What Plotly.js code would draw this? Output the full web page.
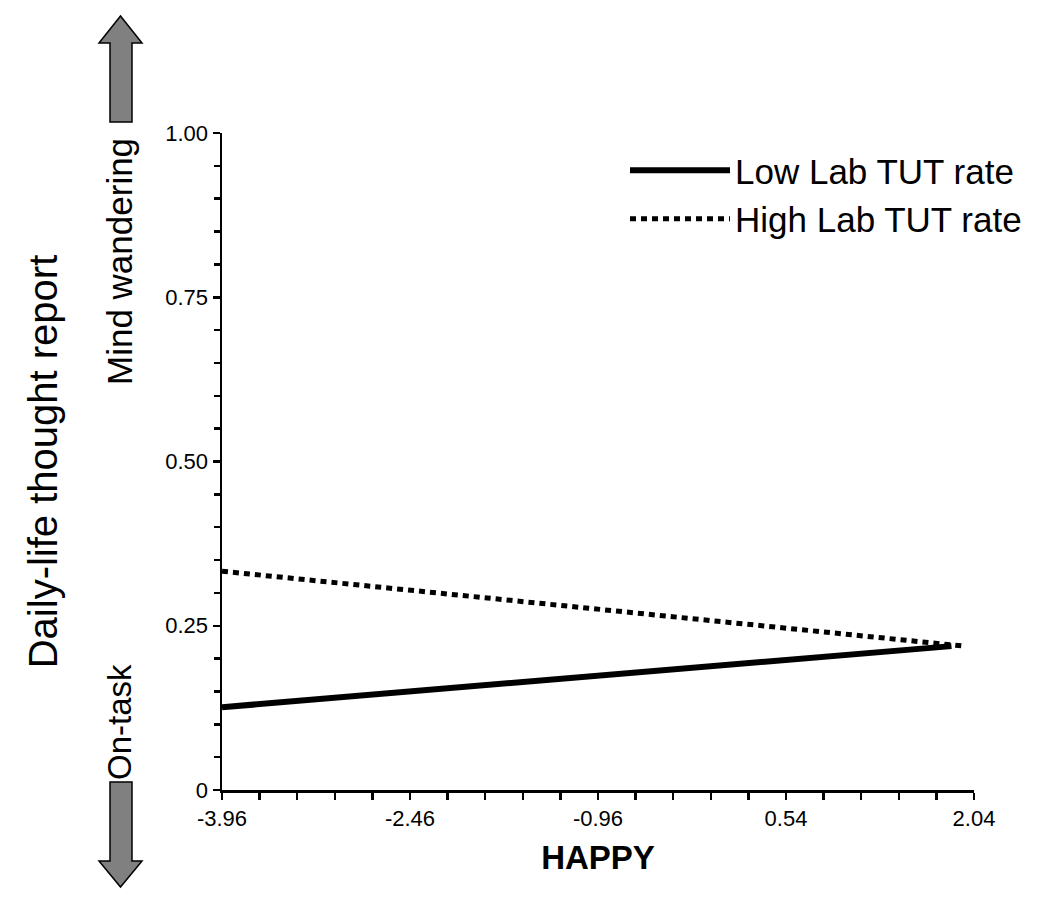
<!DOCTYPE html>
<html>
<head>
<meta charset="utf-8">
<script src="https://cdn.plot.ly/plotly-3.0.1.min.js"></script>
<style>
  html, body { margin: 0; padding: 0; background: #ffffff; }
  #chart { width: 1050px; height: 906px; }
</style>
</head>
<body>
<div id="chart"></div>
<script>
// ---- data ----
const seriesNames = ["Low Lab TUT rate", "High Lab TUT rate"];
const happyLow = [-3.96, 1.86];
const thoughtLow = [0.126, 0.219];
const happyHigh = [-3.96, 1.96];
const thoughtHigh = [0.333, 0.219];
const xTickVals = [-3.96, -2.46, -0.96, 0.54, 2.04];
const xTickText = ["-3.96", "-2.46", "-0.96", "0.54", "2.04"];
const yTickVals = [0, 0.25, 0.5, 0.75, 1.0];
const yTickText = ["0", "0.25", "0.50", "0.75", "1.00"];
const xTitle = "HAPPY";
const yTitle = "Daily-life thought report";
const upperLabel = "Mind wandering";
const lowerLabel = "On-task";

// ---- layout geometry (pixels) ----
const W = 1050, H = 906;
const M = { l: 222, r: 76, t: 133, b: 116 };
const pw = W - M.l - M.r, ph = H - M.t - M.b;
const xp = px => (px - M.l) / pw;
const yp = py => (H - M.b - py) / ph;
function arrowPath(pts) {
  return "M" + pts.map(p => xp(p[0]).toFixed(5) + "," + yp(p[1]).toFixed(5)).join(" L") + " Z";
}
const upArrow = [[120.5,16],[142,43],[132,43],[132,122],[110,122],[110,43],[99,43]];
const downArrow = [[110,782],[132,782],[132,861],[142,861],[120.5,887],[99,861],[110,861]];

const FONT = "Liberation Sans, Arial, sans-serif";

const traces = [
  { x: happyLow, y: thoughtLow, name: seriesNames[0], type: "scatter", mode: "lines",
    line: { color: "#000000", width: 6 } },
  { x: happyHigh, y: thoughtHigh, name: seriesNames[1], type: "scatter", mode: "lines",
    line: { color: "#000000", width: 5, dash: "6px,5px" } }
];

const axisCommon = {
  showgrid: false, zeroline: false, showline: true, linecolor: "#000000", linewidth: 2.5,
  ticks: "outside", ticklen: 7, tickwidth: 2.5, tickcolor: "#000000",
  tickfont: { family: FONT, size: 22, color: "#000000" }, automargin: false, fixedrange: true
};

const layout = {
  width: W, height: H,
  margin: M,
  paper_bgcolor: "#ffffff", plot_bgcolor: "#ffffff",
  showlegend: true,
  legend: { x: xp(625), y: yp(141), xanchor: "left", yanchor: "top",
    bgcolor: "rgba(0,0,0,0)", itemwidth: 100,
    font: { family: FONT, size: 35, color: "#000000" } },
  xaxis: Object.assign({}, axisCommon, {
    range: [-3.96, 2.04], tickmode: "array", tickvals: xTickVals, ticktext: xTickText,
    minor: { dtick: 0.3, tick0: -3.96, ticks: "outside", ticklen: 7, tickwidth: 2.5, tickcolor: "#000000" },
    title: { text: xTitle, standoff: 16, font: { family: FONT, size: 33, color: "#000000", weight: "bold" } }
  }),
  yaxis: Object.assign({}, axisCommon, {
    range: [0, 1], tickmode: "array", tickvals: yTickVals, ticktext: yTickText,
    minor: { dtick: 0.05, tick0: 0, ticks: "outside", ticklen: 6, tickwidth: 2.5, tickcolor: "#000000" },
    title: { text: yTitle, standoff: 96, font: { family: FONT, size: 40, color: "#000000" } }
  }),
  annotations: [
    { text: upperLabel, xref: "paper", yref: "paper", x: xp(119), y: yp(262),
      xanchor: "center", yanchor: "middle", textangle: -90, showarrow: false,
      font: { family: FONT, size: 35, color: "#000000" } },
    { text: lowerLabel, xref: "paper", yref: "paper", x: xp(119), y: yp(722),
      xanchor: "center", yanchor: "middle", textangle: -90, showarrow: false,
      font: { family: FONT, size: 33, color: "#000000" } }
  ],
  shapes: [
    { type: "path", xref: "paper", yref: "paper", path: arrowPath(upArrow),
      fillcolor: "#808080", line: { color: "#000000", width: 1.5 } },
    { type: "path", xref: "paper", yref: "paper", path: arrowPath(downArrow),
      fillcolor: "#808080", line: { color: "#000000", width: 1.5 } }
  ]
};

Plotly.newPlot("chart", traces, layout, { displayModeBar: false, staticPlot: true });
</script>
</body>
</html>
